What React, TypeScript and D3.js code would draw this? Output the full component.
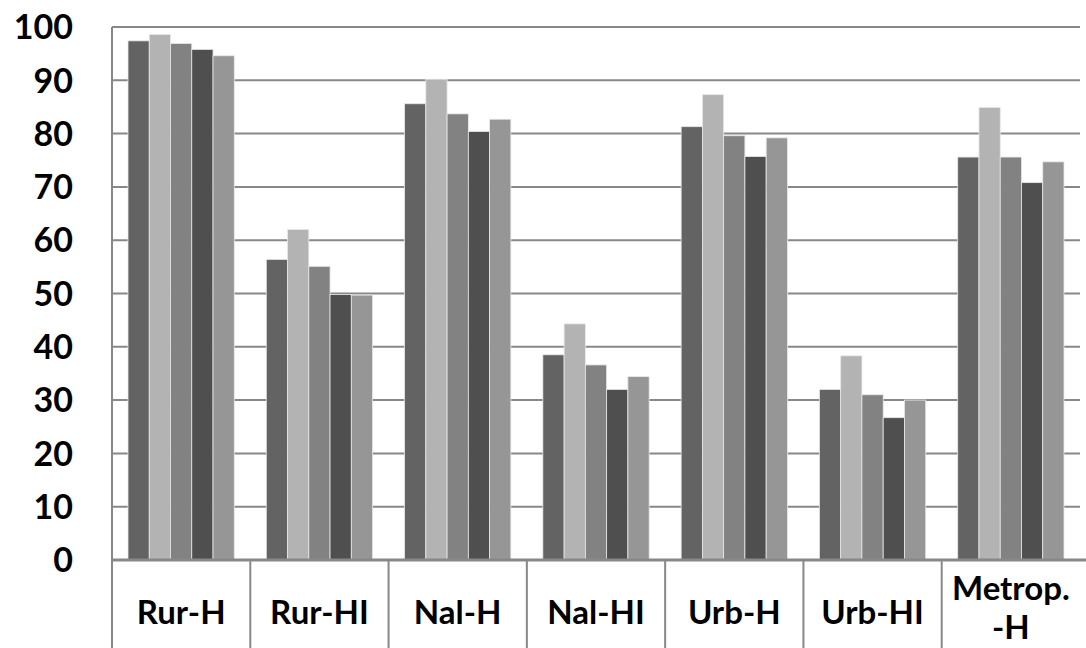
import React from 'react';
import * as d3 from 'd3';

const categories = ['Rur-H', 'Rur-HI', 'Nal-H', 'Nal-HI', 'Urb-H', 'Urb-HI', 'Metrop.\n-H'];
const series1 = [97.4, 56.4, 85.6, 38.5, 81.3, 32.0, 75.6];
const series2 = [98.6, 62.0, 90.2, 44.3, 87.3, 38.3, 84.9];
const series3 = [96.9, 55.1, 83.7, 36.6, 79.6, 31.0, 75.6];
const series4 = [95.8, 49.8, 80.4, 32.0, 75.7, 26.7, 70.8];
const series5 = [94.6, 49.7, 82.7, 34.4, 79.2, 30.0, 74.7];
const yTicks = [0, 10, 20, 30, 40, 50, 60, 70, 80, 90, 100];

const allSeries = [series1, series2, series3, series4, series5];
const colors = ['#636363', '#b3b3b3', '#828282', '#4f4f4f', '#969696'];

const width = 1086;
const height = 648;
const left = 112;
const right = 1080;
const top = 27;
const bottom = 560;
const font = 'Lato, "Open Sans", sans-serif';

export default function App() {
  const x0 = d3.scaleBand<string>().domain(categories).range([left, right]);
  const bw = x0.bandwidth();
  const x1 = d3
    .scaleBand<number>()
    .domain(d3.range(allSeries.length))
    .range([16, bw - 16]);
  const y = d3.scaleLinear().domain([0, 100]).range([bottom, top]);

  return (
    <svg
      width={width}
      height={height}
      style={{ position: 'absolute', left: 0, top: 0, background: '#fff' }}
    >
      {/* gridlines */}
      {yTicks.slice(1).map(t => (
        <line key={t} x1={left} x2={right} y1={y(t)} y2={y(t)} stroke="#888" strokeWidth={2} />
      ))}
      {/* bars */}
      {categories.map((c, ci) => (
        <g key={c} transform={`translate(${x0(c)},0)`}>
          {allSeries.map((s, si) => (
            <rect
              key={si}
              x={x1(si)}
              y={y(s[ci])}
              width={x1.bandwidth()}
              height={y(0) - y(s[ci])}
              fill={colors[si]}
              stroke="#e8e8e8"
              strokeWidth={0.8}
            />
          ))}
        </g>
      ))}
      {/* axes */}
      <line x1={left} x2={left} y1={top} y2={height} stroke="#888" strokeWidth={2} />
      <line x1={left} x2={right + 6} y1={bottom} y2={bottom} stroke="#888" strokeWidth={3} />
      {categories.slice(1).map(c => (
        <line key={c} x1={x0(c)} x2={x0(c)} y1={bottom} y2={height} stroke="#888" strokeWidth={2} />
      ))}
      {/* y labels */}
      {yTicks.map(t => (
        <text
          key={t}
          x={73}
          y={y(t)}
          dy="0.36em"
          textAnchor="end"
          fontFamily={font}
          fontWeight="bold"
          fontSize={34}
          fill="#000"
        >
          {t}
        </text>
      ))}
      {/* category labels */}
      {categories.map(c => {
        const lines = c.split('\n');
        const cx = (x0(c) ?? 0) + bw / 2;
        const baselines = lines.length === 1 ? [624] : [600, 639];
        return (
          <text
            key={c}
            textAnchor="middle"
            fontFamily={font}
            fontWeight="bold"
            fontSize={33}
            fill="#000"
          >
            {lines.map((l, i) => (
              <tspan key={i} x={cx} y={baselines[i]}>
                {l}
              </tspan>
            ))}
          </text>
        );
      })}
    </svg>
  );
}
